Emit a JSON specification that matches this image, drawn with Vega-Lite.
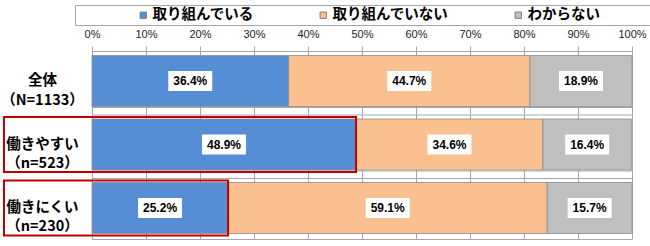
{
  "$schema": "https://vega.github.io/schema/vega-lite/v6.json",
  "width": 540,
  "height": 189,
  "autosize": {"type": "none"},
  "padding": {"left": 92, "top": 50, "right": 18, "bottom": 7},
  "background": "white",
  "config": {
    "view": {"stroke": null},
    "font": "Noto Sans CJK JP"
  },
  "data": {
    "values": [
      {"group": "全体|（N=1133）", "cat": "取り組んでいる", "value": 36.4},
      {"group": "全体|（N=1133）", "cat": "取り組んでいない", "value": 44.7},
      {"group": "全体|（N=1133）", "cat": "わからない", "value": 18.9},
      {"group": "働きやすい|（n=523）", "cat": "取り組んでいる", "value": 48.9},
      {"group": "働きやすい|（n=523）", "cat": "取り組んでいない", "value": 34.6},
      {"group": "働きやすい|（n=523）", "cat": "わからない", "value": 16.4},
      {"group": "働きにくい|（n=230）", "cat": "取り組んでいる", "value": 25.2},
      {"group": "働きにくい|（n=230）", "cat": "取り組んでいない", "value": 59.1},
      {"group": "働きにくい|（n=230）", "cat": "わからない", "value": 15.7}
    ]
  },
  "transform": [
    {"calculate": "datum.cat == '取り組んでいる' ? 0 : (datum.cat == '取り組んでいない' ? 1 : 2)", "as": "ord"},
    {"stack": "value", "groupby": ["group"], "sort": [{"field": "ord", "order": "ascending"}], "as": ["v0", "v1"]},
    {"calculate": "(datum.v0 + datum.v1) / 2", "as": "mid"},
    {"calculate": "format(datum.value, '.1f') + '%'", "as": "lbl"}
  ],
  "encoding": {
    "y": {
      "field": "group",
      "type": "nominal",
      "sort": ["全体|（N=1133）", "働きやすい|（n=523）", "働きにくい|（n=230）"],
      "scale": {"paddingInner": 0.197, "paddingOuter": 0.087},
      "axis": {
        "title": null,
        "domain": false,
        "ticks": false,
        "labelExpr": "split(datum.label, '|')",
        "labelAlign": "center",
        "labelBaseline": "middle",
        "labelPadding": 50,
        "labelFont": "Noto Sans CJK JP",
        "labelFontWeight": "bold",
        "labelFontSize": 14.5,
        "labelLineHeight": 19.5,
        "labelColor": "#000000",
        "labelLimit": 200
      }
    }
  },
  "layer": [
    {
      "mark": {"type": "bar", "stroke": "#8c8c8c", "strokeWidth": 0.8},
      "encoding": {
        "x": {
          "field": "v0",
          "type": "quantitative",
          "scale": {"domain": [0, 100], "nice": false},
          "axis": {
            "orient": "top",
            "title": null,
            "values": [0, 10, 20, 30, 40, 50, 60, 70, 80, 90, 100],
            "labelExpr": "datum.value + '%'",
            "domain": false,
            "ticks": true,
            "tickSize": 4,
            "tickColor": "#a6a6a6",
            "grid": true,
            "gridColor": "#a6a6a6",
            "gridWidth": 1,
            "labelPadding": 7,
            "labelFont": "Liberation Sans",
            "labelFontSize": 11,
            "labelColor": "#222222",
            "labelFlush": false
          }
        },
        "x2": {"field": "v1"},
        "color": {
          "field": "cat",
          "type": "nominal",
          "scale": {
            "domain": ["取り組んでいる", "取り組んでいない", "わからない"],
            "range": ["#558ED5", "#FAC090", "#BFBFBF"]
          },
          "legend": {
            "title": " ",
            "titleOrient": "right",
            "titlePadding": 48,
            "orient": "none",
            "legendX": -17,
            "legendY": -45,
            "direction": "horizontal",
            "strokeColor": "#a6a6a6",
            "fillColor": "white",
            "padding": 3,
            "symbolType": "square",
            "symbolSize": 40,
            "symbolStrokeColor": "#7f7f7f",
            "symbolStrokeWidth": 1,
            "symbolOffset": 58,
            "columnPadding": 4,
            "labelOffset": 2,
            "labelFont": "Noto Sans CJK JP",
            "labelFontWeight": "bold",
            "labelFontSize": 14.5,
            "labelColor": "#000000",
            "labelLimit": 300,
            "gridAlign": "none"
          }
        }
      }
    },
    {
      "transform": [{"filter": "datum.ord == 0"}],
      "mark": {"type": "rule", "color": "#a6a6a6", "strokeWidth": 1, "yOffset": -4},
      "encoding": {
        "y": {"field": "group", "type": "nominal", "bandPosition": 0, "sort": ["全体|（N=1133）", "働きやすい|（n=523）", "働きにくい|（n=230）"]}
      }
    },
    {
      "transform": [{"filter": "datum.ord == 0 && datum.group != '働きにくい|（n=230）'"}],
      "mark": {"type": "rule", "color": "#a6a6a6", "strokeWidth": 1, "yOffset": 1},
      "encoding": {
        "y": {"field": "group", "type": "nominal", "bandPosition": 1, "sort": ["全体|（N=1133）", "働きやすい|（n=523）", "働きにくい|（n=230）"]}
      }
    },
    {
      "transform": [{"filter": "datum.ord == 0 && datum.group == '働きにくい|（n=230）'"}],
      "mark": {"type": "rule", "color": "#a6a6a6", "strokeWidth": 1, "yOffset": 6},
      "encoding": {
        "y": {"field": "group", "type": "nominal", "bandPosition": 1, "sort": ["全体|（N=1133）", "働きやすい|（n=523）", "働きにくい|（n=230）"]}
      }
    },
    {
      "transform": [{"filter": "datum.ord == 0 && datum.group != '全体|（N=1133）'"}],
      "mark": {"type": "bar", "height": {"band": 1.08}, "fillOpacity": 0, "stroke": "#C00000", "strokeWidth": 2, "clip": false},
      "encoding": {
        "x": {"field": "v1", "type": "quantitative"},
        "x2": {"datum": -16.3}
      }
    },
    {
      "mark": {"type": "point", "shape": "M-1,-0.4545H1V0.4545H-1Z", "size": 1936, "filled": true, "fill": "white", "opacity": 1, "strokeWidth": 0},
      "encoding": {
        "x": {"field": "mid", "type": "quantitative"}
      }
    },
    {
      "mark": {"type": "text", "font": "Liberation Sans", "fontWeight": "bold", "fontSize": 12, "color": "#000000", "align": "center", "baseline": "middle"},
      "encoding": {
        "x": {"field": "mid", "type": "quantitative"},
        "text": {"field": "lbl"}
      }
    }
  ]
}
